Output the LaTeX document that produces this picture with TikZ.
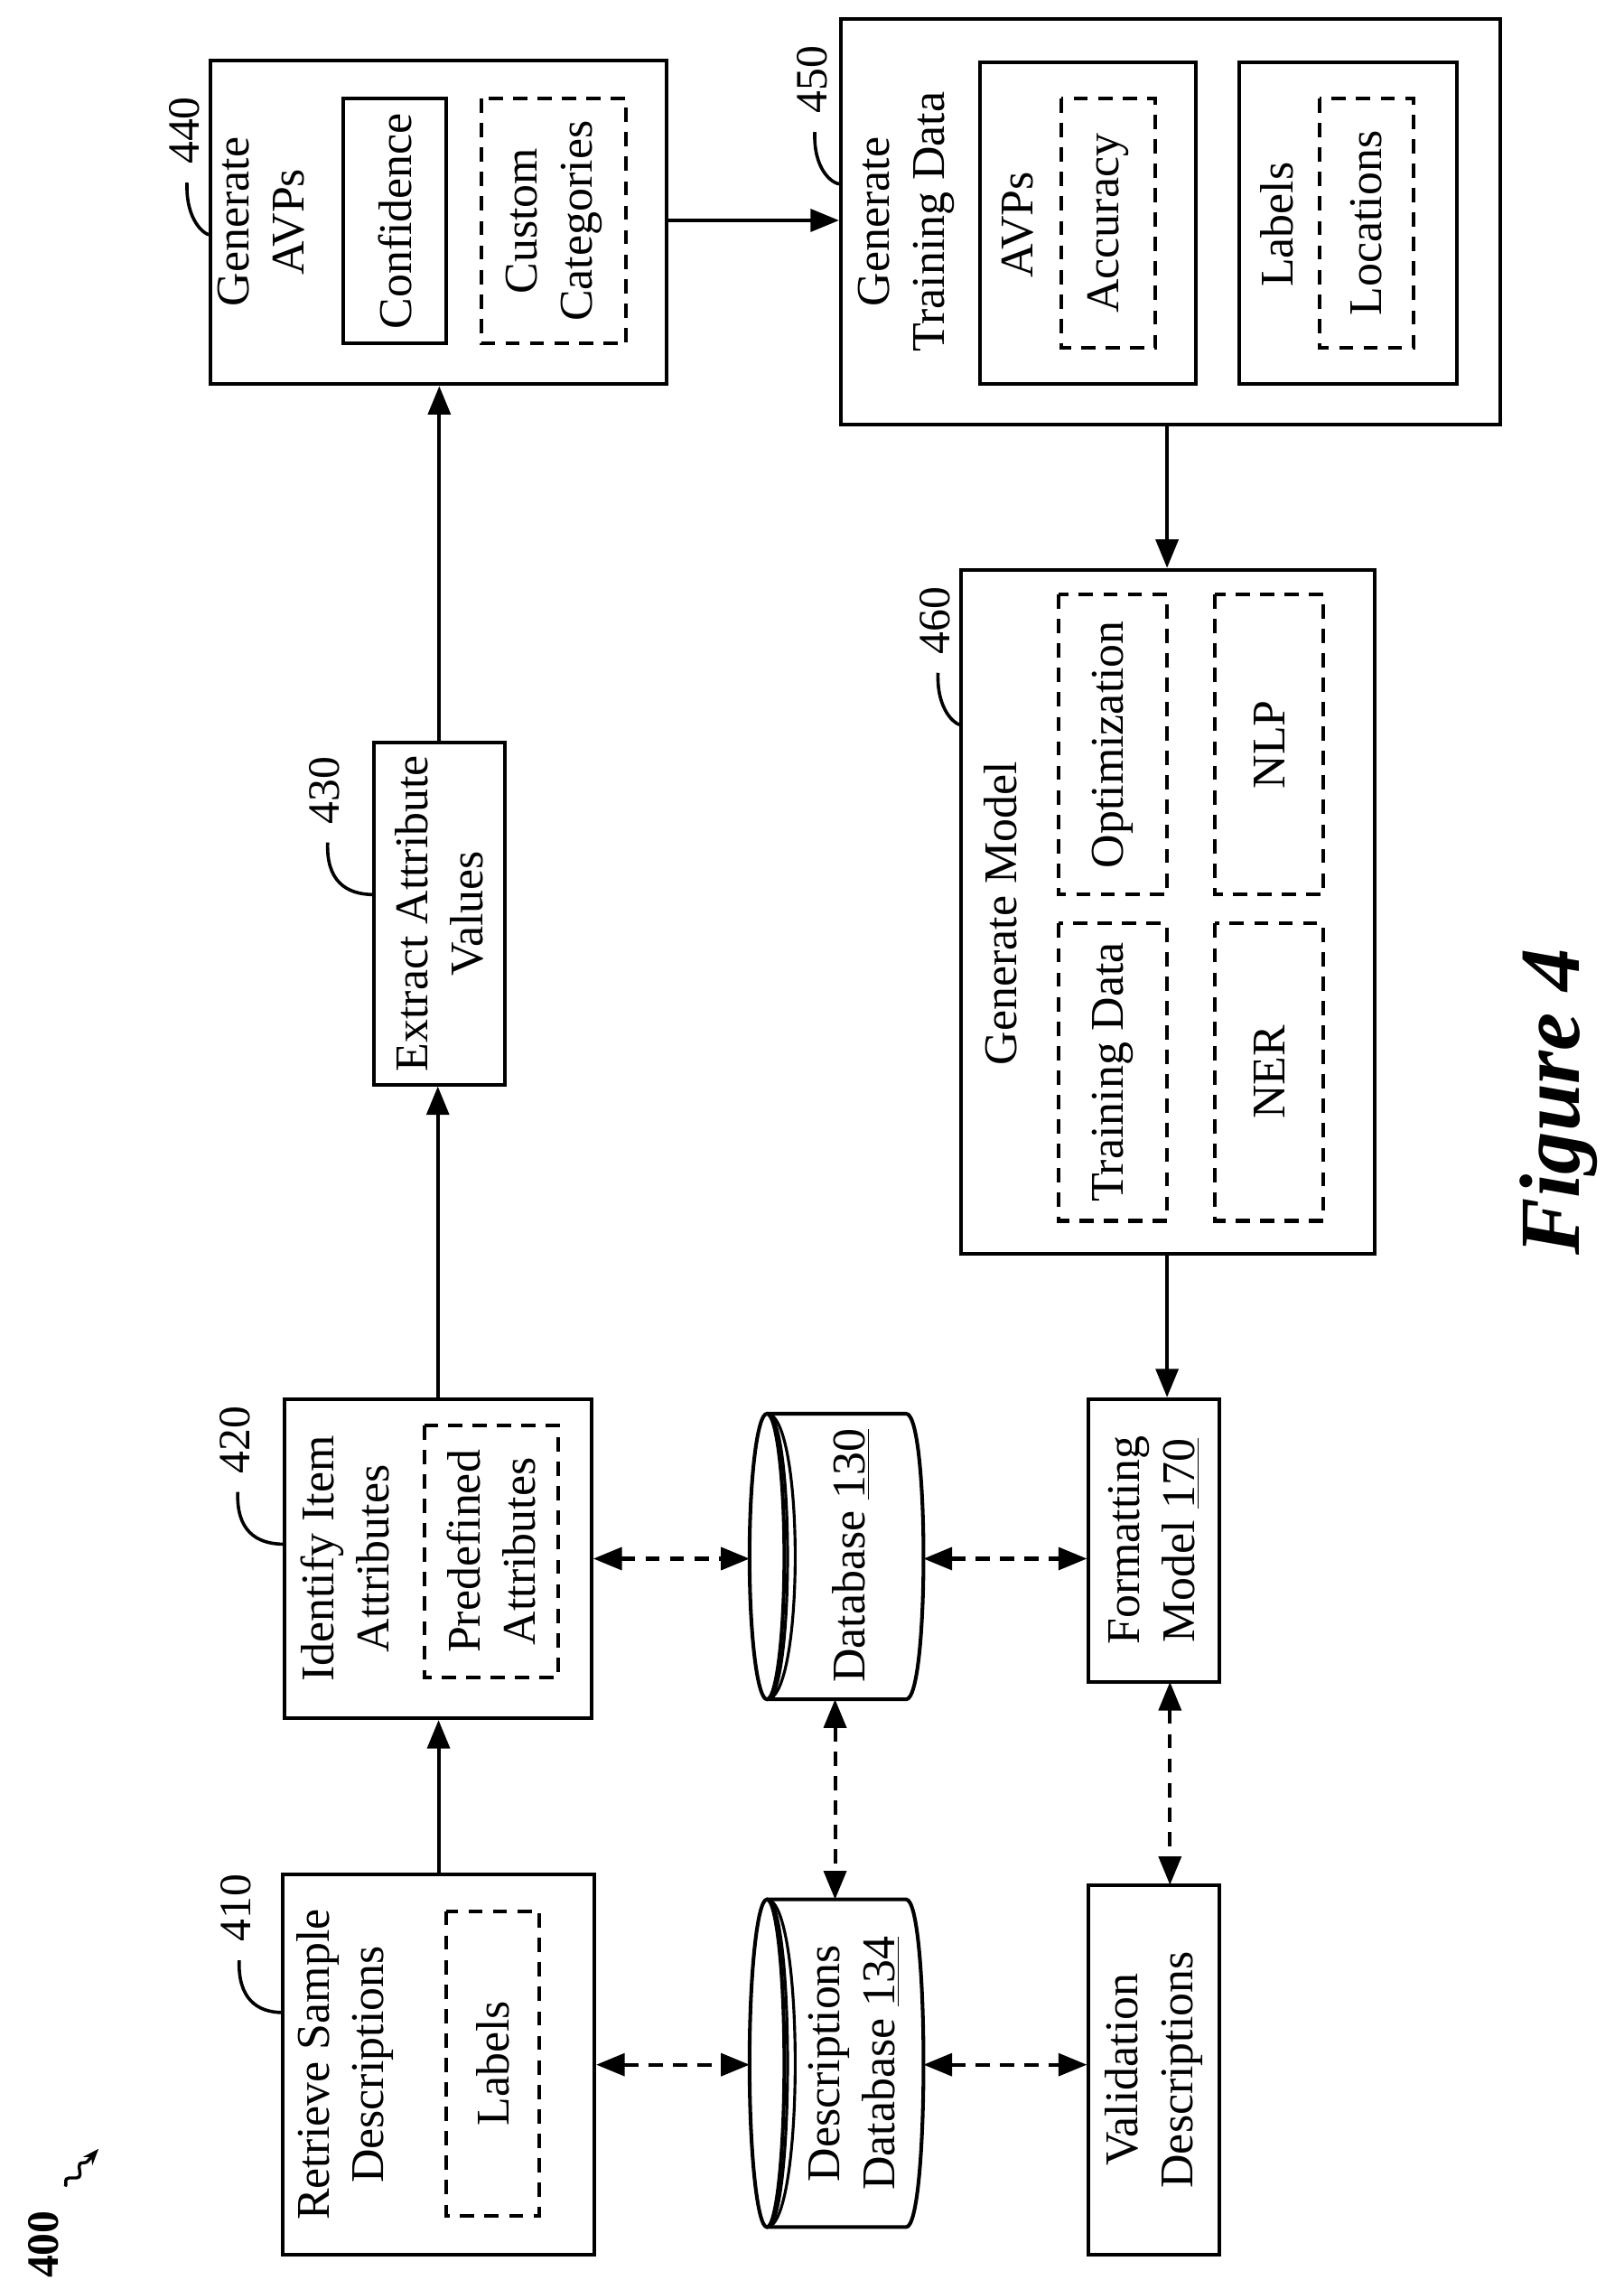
\documentclass[tikz,border=0pt]{standalone}
\usepackage{fontspec}
\setmainfont{Liberation Serif}
\usetikzlibrary{arrows.meta,decorations.pathmorphing,calc}
\newcommand\RB[7]{\node[draw, line width=1.8pt, rotate=90, inner sep=0pt, align=center,
 minimum width={(#5-#3)*0.025cm}, minimum height={(#4-#2)*0.025cm}, #6] (#1) at ({(#2+#4)/2},{(#3+#5)/2}) {#7};}
\newcommand\LD[4]{\node[rotate=90,font=\fontsize{22}{26}\selectfont] (L#1) at (#2,#3) {#1};
 \draw[line width=1.6pt] ({#2+2},{#3+36}) .. controls ({#2+1},{#3+62}) and ({#2+14},{#3+72}) .. (#4,{#3+72});}
\newcommand\CYL[3]{% x-left, y-top, y-bottom
 \draw[line width=1.8pt] (#1+12,{(#2+#3)/2}) ellipse [x radius=12, y radius={(#3-#2)/2}];
 \draw[line width=1.8pt] (#1+12,#2) -- (#1+108,#2) .. controls (#1+124,#2) and (#1+124,#3) .. (#1+108,#3) -- (#1+12,#3);
 \draw[line width=1.4pt] (#1+12,#2) .. controls (#1+31,#2) and (#1+31,#3) .. (#1+12,#3);
 \draw[line width=1.4pt] (#1+12,#2) .. controls (#1+38,#2) and (#1+38,#3) .. (#1+12,#3);}
\begin{document}
\begin{tikzpicture}[x=0.025cm,y=-0.025cm,
 dsh/.style={dash pattern=on 7pt off 5pt},
 txt/.style={rotate=90,align=center,font=\fontsize{23}{27}\selectfont},
 arr/.style={line width=1.8pt,-{Triangle[length=14pt,width=11pt]}},
 darr/.style={line width=1.8pt,dsh,{Triangle[length=14pt,width=11pt]}-{Triangle[length=14pt,width=11pt]}}]
\useasboundingbox (0,0) rectangle (1120,1572.5);
\tikzset{every node/.append style={font=\fontsize{23}{27}\selectfont}}
% 410
\RB{n410}{195}{1293}{410}{1555}{}{}
\node[txt] (t410) at (238,1424) {Retrieve Sample\\Descriptions};
\RB{n410l}{308}{1318}{372}{1528}{dsh}{Labels}
% 420
\RB{n420}{196}{965}{408}{1185}{}{}
\node[txt] (t420) at (238,1075) {Identify Item\\Attributes};
\RB{n420p}{293}{983}{385}{1157}{dsh}{Predefined\\Attributes}
% 430
\RB{n430}{258}{512}{348}{748}{}{Extract Attribute\\Values}
% 440
\RB{n440}{145}{42}{460}{265}{}{}
\node[txt] (t440) at (180,153) {Generate\\AVPs};
\RB{n440c}{237}{68}{308}{237}{}{Confidence}
\RB{n440d}{332}{68}{432}{237}{dsh}{Custom\\Categories}
% 450
\RB{n450}{580}{13}{1035}{293}{}{}
\node[txt] (t450) at (625,153) {Generate\\Training Data};
\RB{n450a}{676}{43}{825}{265}{}{}
\node[txt] (t450a) at (702,155) {AVPs};
\RB{n450b}{732}{68}{797}{240}{dsh}{Accuracy}
\RB{n450c}{855}{43}{1005}{265}{}{}
\node[txt] (t450c) at (881,155) {Labels};
\RB{n450d}{910}{68}{975}{240}{dsh}{Locations}
% 460
\RB{n460}{663}{393}{948}{865}{}{}
\node[txt] (t460) at (690,630) {Generate Model};
\RB{n460a}{730}{637}{805}{842}{dsh}{Training Data}
\RB{n460b}{730}{410}{805}{617}{dsh}{Optimization}
\RB{n460c}{838}{637}{913}{842}{dsh}{NER}
\RB{n460d}{838}{410}{913}{617}{dsh}{NLP}
% formatting / validation
\RB{n170}{751}{965}{841}{1160}{}{Formatting\\Model \underline{170}}
\RB{nval}{751}{1300}{841}{1555}{}{Validation\\Descriptions}
% cylinders
\node[rotate=90,minimum width=197*0.025cm,minimum height=120*0.025cm,inner sep=0pt] (n130) at (577,1073) {};
\node[rotate=90,minimum width=225*0.025cm,minimum height=120*0.025cm,inner sep=0pt] (n134) at (577,1423) {};
\CYL{517}{975}{1172}
\CYL{517}{1310}{1536}
\node[txt] (t130) at (587,1073) {Database \underline{130}};
\node[txt] (t134) at (589,1423) {Descriptions\\Database \underline{134}};
% arrows
\draw[arr] (n410.east) -- (n410.east |- n420.west);
\draw[arr] (n420.east) -- (n420.east |- n430.west);
\draw[arr] (n430.east) -- (n430.east |- n440.west);
\draw[arr] (n440.south |- 0,152) -- (n450.north |- 0,152);
\draw[arr] (805,293) -- (n460.east -| 805,0);
\draw[arr] (n460.west -| 805,0) -- (n170.east -| 805,0);
\draw[darr] (n420.south |- 0,1075) -- (517,1075);
\draw[darr] (637,1075) -- (n170.north |- 0,1075);
\draw[darr] (n410.south |- 0,1424) -- (517,1424);
\draw[darr] (637,1424) -- (nval.north |- 0,1424);
\draw[darr] (576,1172) -- (576,1310);
\draw[darr] (807,1160) -- (807,1300);
% leaders
\LD{410}{163}{1316}{195}
\LD{420}{162}{993}{196}
\LD{430}{224}{545}{258}
\LD{440}{127}{90}{145}
\LD{450}{560}{55}{580}
\LD{460}{645}{428}{663}
% figure label
\node[rotate=90,font=\fontsize{42}{46}\selectfont\bfseries\itshape] (fig) at (1075,760) {Figure 4};
\node[rotate=90,font=\fontsize{22}{26}\selectfont\bfseries] (n400) at (30,1548) {400};
\draw[line width=1.5pt,-{Stealth[length=8pt]},decorate,decoration={snake,amplitude=2pt,segment length=10pt,post length=6pt}] (45,1508) -- (68,1482);
\end{tikzpicture}
\end{document}
